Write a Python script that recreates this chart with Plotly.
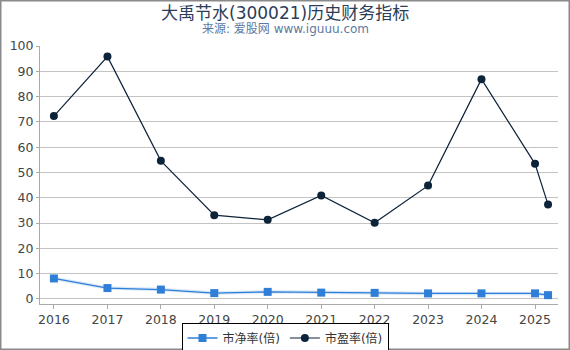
import plotly.graph_objects as go

dates = ["2016-01-01", "2017-01-01", "2018-01-01", "2019-01-01", "2020-01-01",
         "2021-01-01", "2022-01-01", "2023-01-01", "2024-01-01", "2025-01-01",
         "2025-03-31"]
pb = [8.1, 4.3, 3.7, 2.3, 2.8, 2.5, 2.4, 2.2, 2.2, 2.2, 1.5]
pe = [72.3, 95.8, 54.6, 33.1, 31.3, 40.9, 30.1, 44.8, 86.9, 53.4, 37.3]
y_ticks = [0, 10, 20, 30, 40, 50, 60, 70, 80, 90, 100]

W, H = 570, 350
ML, MR, MT, MB = 40, 12, 46, 46
PW, PH = W - ML - MR, H - MT - MB

FONT = "DejaVu Sans, Noto Sans CJK SC, sans-serif"


def py(pix):
    """paper y from pixel distance from top of figure"""
    return 1 + (MT - pix) / PH


def px(pix):
    return (pix - ML) / PW


fig = go.Figure()
# soft shadow under the PB line
fig.add_trace(go.Scatter(x=dates, y=pb, mode="lines",
                         line=dict(color="rgba(47,126,216,0.18)", width=3.5),
                         showlegend=False, hoverinfo="skip"))
fig.add_trace(go.Scatter(x=dates, y=pb, mode="lines+markers", name="市净率(倍)",
                         line=dict(color="#2f7ed8", width=1.3),
                         marker=dict(symbol="square", size=8, color="#2f7ed8")))
fig.add_trace(go.Scatter(x=dates, y=pe, mode="lines+markers", name="市盈率(倍)",
                         line=dict(color="#0d233a", width=1.2),
                         marker=dict(symbol="circle", size=8, color="#0d233a")))

fig.update_layout(
    width=W, height=H,
    margin=dict(l=ML, r=MR, t=MT, b=MB, autoexpand=False),
    paper_bgcolor="white", plot_bgcolor="white",
    font=dict(family=FONT, size=12, color="#444"),
    showlegend=True,
    legend=dict(orientation="h", x=px(285), xanchor="center",
                y=py(338), yanchor="middle",
                bordercolor="#000", borderwidth=1, bgcolor="white",
                font=dict(size=12, color="#333"),
                itemwidth=30, tracegroupgap=0),
    annotations=[
        dict(text="大禹节水(300021)历史财务指标", xref="paper", yref="paper",
             x=px(285), y=py(12.5), xanchor="center", yanchor="middle",
             showarrow=False, font=dict(size=17, color="#2b3d57", family=FONT)),
        dict(text="来源: 爱股网 www.iguuu.com", xref="paper", yref="paper",
             x=px(285), y=py(29), xanchor="center", yanchor="middle",
             showarrow=False, font=dict(size=12, color="#5b7aa3", family=FONT)),
    ],
    shapes=[
        dict(type="rect", xref="paper", yref="paper",
             x0=px(0), x1=px(W), y0=py(H), y1=py(0),
             line=dict(color="#8a8a8a", width=3), layer="above"),
    ],
)

fig.update_xaxes(
    type="date", range=["2015-09-28", "2025-06-07"],
    tick0="2016-01-01", dtick="M12", tickformat="%Y",
    showgrid=False, showline=True, linecolor="#aaa", linewidth=1,
    ticks="outside", ticklen=4, tickcolor="#aaa",
    tickfont=dict(size=12.5, color="#444"), zeroline=False,
)
fig.update_yaxes(
    range=[-2, 100], tickvals=y_ticks,
    showgrid=True, gridcolor="#c4c4c4", gridwidth=1,
    showline=True, linecolor="#aaa", linewidth=1,
    ticks="outside", ticklen=3, tickcolor="#aaa",
    tickfont=dict(size=12.5, color="#444"), zeroline=False,
)

fig.write_html("out.html")
